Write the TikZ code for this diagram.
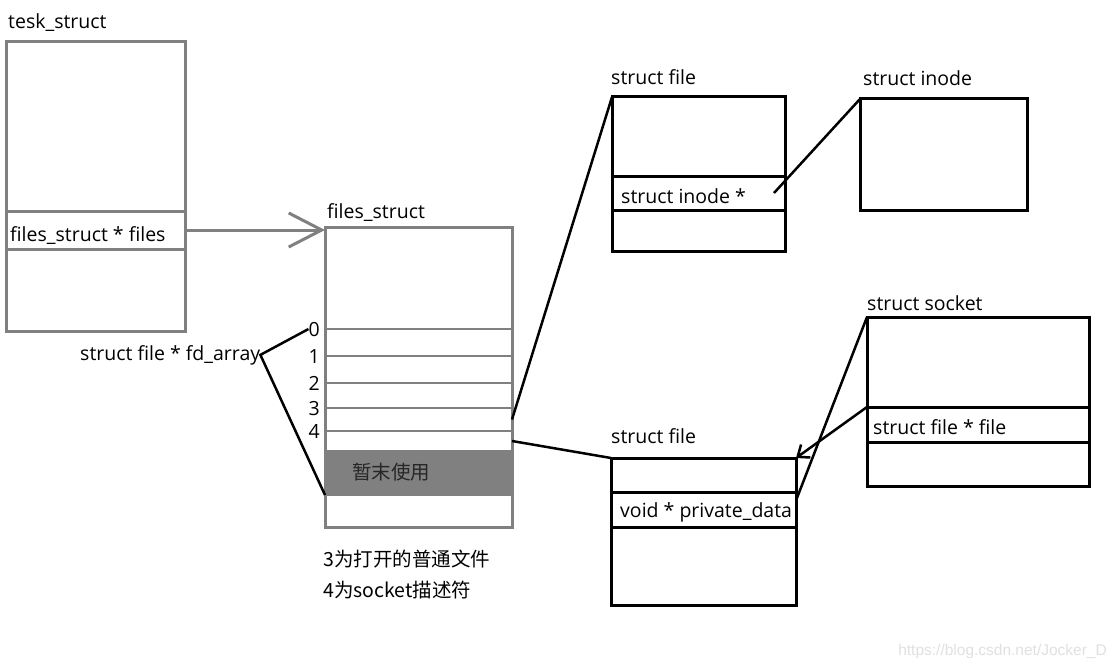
\documentclass[tikz,border=0pt]{standalone}
\usepackage{fontspec}
\setmainfont{Open Sans}
\newfontfamily\cjk{Noto Sans CJK SC}
\newfontfamily\markfont{Liberation Sans}
\usepackage{tikz}
\usetikzlibrary{positioning}
\usetikzlibrary{arrows.meta}
\definecolor{boxgray}{HTML}{808080}
\tikzstyle{gbox} = [draw=boxgray, line width=3pt, inner sep=0pt, outer sep=0pt, anchor=north west]
\tikzstyle{slotbox} = [gbox, line width=2.3pt, minimum width=187pt]
\tikzstyle{bbox} = [draw=black, line width=3pt, inner sep=0pt, outer sep=0pt, anchor=north west]
\tikzstyle{txt} = [inner sep=0pt, anchor=base west, font=\fontsize{19.5}{23}\selectfont]
\tikzstyle{num} = [txt, anchor=base east]
\tikzstyle{line} = [draw, line width=2.5pt]

\begin{document}
\begin{tikzpicture}[x=1pt, y=-1pt]

	\useasboundingbox (0,0) rectangle (1118,666);

	% tesk_struct
	\node[gbox, minimum width=179pt, minimum height=289pt] (task) at (6,42) {};
	\node[gbox, minimum width=179pt, minimum height=38pt] (taskfiles) at (6,211) {};
	\node[txt] (tasklbl) at ([shift={(2,-13)}]task.north west) {tesk\_struct};
	\node[txt] (taskfilestxt) at ([shift={(4,11)}]taskfiles.west) {files\_struct * files};

	% files_struct
	\node[gbox, minimum width=187pt, minimum height=300pt] (fstruct) at (325,227) {};
	\node[txt] (fstructlbl) at ([shift={(2,-9)}]fstruct.north west) {files\_struct};
	\foreach \n/\y/\h in {0/329/27, 1/356/27, 2/383/25, 3/408/23, 4/431/20} {
		\node[slotbox, minimum height=\h pt] (slot\n) at (325,\y) {};
		\node[num] (num\n) at ([shift={(-5,7)}]slot\n.north west) {\n};
	}
	\node[slotbox, fill=boxgray, minimum height=44pt] (unused) at (325,451) {};
	\node[txt, text=black!85] (unusedtxt) at ([shift={(27,28)}]unused.north west) {\cjk 暂末使用};

	\node[txt] (fdlbl) at (80,360) {struct file * fd\_array};

	\draw[boxgray, line width=3pt, -{Straight Barb[length=33pt, width=34pt]}] (taskfiles.east) -- (taskfiles.east -| fstruct.west);

	\path[line] (num0.west) -- (fdlbl.east) -- (unused.south west);

	% struct file (inode)
	\node[bbox, minimum width=173pt, minimum height=154pt] (file1) at (612,97) {};
	\node[bbox, minimum width=173pt, minimum height=34pt] (fileinode) at (612,176) {};
	\node[txt] (file1lbl) at ([shift={(-1,-12)}]file1.north west) {struct file};
	\node[txt] (fileinodetxt) at ([shift={(9,10)}]fileinode.west) {struct inode *};

	% struct inode
	\node[bbox, minimum width=167pt, minimum height=111pt] (inode) at (860,99) {};
	\node[txt] (inodelbl) at ([shift={(3,-13)}]inode.north west) {struct inode};

	% struct socket
	\node[bbox, minimum width=222pt, minimum height=169pt] (sock) at (867,317) {};
	\node[bbox, minimum width=222pt, minimum height=35pt] (sockfile) at (867,407) {};
	\node[txt] (socklbl) at ([shift={(0,-7)}]sock.north west) {struct socket};
	\node[txt] (sockfiletxt) at ([shift={(6,10)}]sockfile.west) {struct file * file};

	% struct file (socket)
	\node[bbox, minimum width=185pt, minimum height=147pt] (file2) at (611,458) {};
	\node[bbox, minimum width=185pt, minimum height=35pt] (pdata) at (611,492) {};
	\node[txt] (file2lbl) at ([shift={(0,-15)}]file2.north west) {struct file};
	\node[txt] (pdatatxt) at ([shift={(9,8)}]pdata.west) {void * private\_data};

	\path[line] (slot3.east) -- (file1.north west);
	\path[line] (slot4.east) -- (file2.north west);
	\path[line] ([xshift=-11pt]fileinode.east) -- (inode.north west);
	\path[line] ([yshift=9pt]pdata.east) -- (sock.north west);
	\path[line, -{Straight Barb[length=10pt, width=16pt]}] (sockfile.north west) -- (file2.north east);

	\node[txt] (note3) at (323,566) {\cjk 3为打开的普通文件};
	\node[txt] (note4) at (323,597) {\cjk 4为socket描述符};

	\node[txt, anchor=base east, text=black!12, font=\markfont\fontsize{15.5}{18}\selectfont] (mark) at (1107,655) {https://blog.csdn.net/Jocker\_D};

\end{tikzpicture}
\end{document}
